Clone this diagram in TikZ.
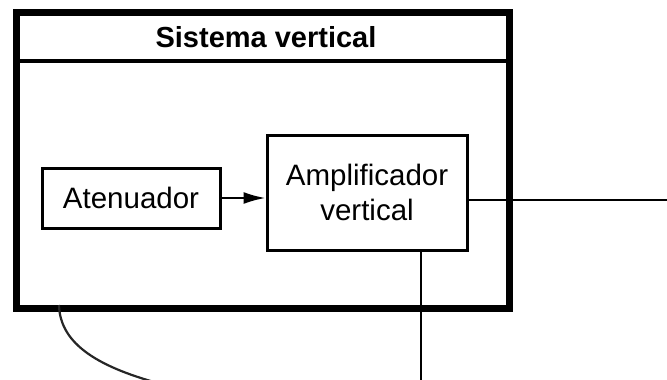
\documentclass[tikz,border=0pt]{standalone}
\usepackage{fontspec}
\setmainfont{Liberation Sans}
\usetikzlibrary{arrows.meta}
\begin{document}
\begin{tikzpicture}[x=1pt,y=-1pt,
  frame/.style={draw, line width=7pt, inner sep=0pt, anchor=north west},
  block/.style={draw, line width=3pt, inner sep=0pt, align=center,
    font=\fontsize{29.5}{35}\selectfont},
  wire/.style={line width=2.2pt},
  titletext/.style={font=\fontsize{29}{35}\selectfont\bfseries}]
\useasboundingbox (0,0) rectangle (667,380);
\clip (0,0) rectangle (667,380);
\node[frame, minimum width=493pt, minimum height=296pt] (sys) at (13,9) {};
\node[titletext] (title) at (266,37) {Sistema vertical};
\coordinate (divL) at (13,61);
\coordinate (divR) at (506,61);
\draw[line width=3.5pt] (divL) -- (divR);
\node[block, minimum width=178pt, minimum height=60pt] (aten) at (131,198) {Atenuador};
\node[block, minimum width=200pt, minimum height=115pt] (amp) at (367,192.5) {Amplificador\\vertical};
\draw[wire, -{Latex[length=22pt,width=12pt]}] (aten.east) -- (aten.east -| amp.west);
\coordinate (out) at (667,200);
\draw[wire] (amp.east |- out) -- (out);
\coordinate (down) at (421,382);
\draw[wire] (down |- amp.south) -- (down);
\coordinate (cs) at (59,305);
\coordinate (ce) at (165,385);
\draw[wire, draw=black!85] (cs) .. controls (60,345) and (100,368) .. (ce);
\end{tikzpicture}
\end{document}
